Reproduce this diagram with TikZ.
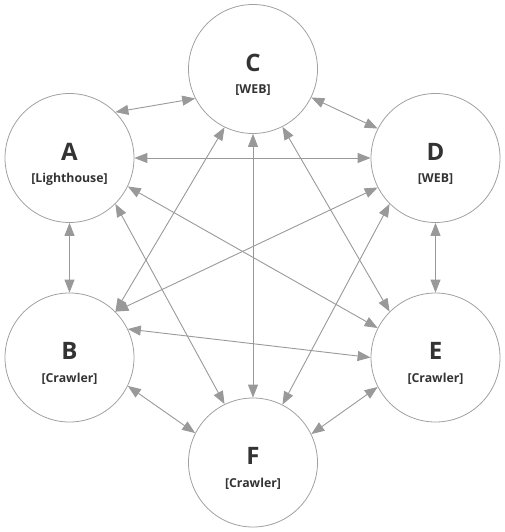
\documentclass[tikz,border=0pt]{standalone}
\usepackage{fontspec}
\setmainfont{Open Sans}
\usetikzlibrary{arrows.meta}
\definecolor{edgegray}{HTML}{999999}
\definecolor{ringgray}{HTML}{A0A0A0}
\definecolor{textdark}{HTML}{333333}
\tikzset{
	peer/.style={circle,draw=ringgray,line width=0.8pt,minimum size=129pt,inner sep=0pt},
	tag/.style={text=textdark,font=\bfseries\fontsize{24}{24}\selectfont,inner sep=0pt},
	role/.style={text=textdark,font=\bfseries\fontsize{12.3}{12.3}\selectfont,inner sep=0pt},
	link/.style={draw=edgegray,line width=0.9pt,{Triangle[length=13pt,width=10pt]}-{Triangle[length=13pt,width=10pt]}}
}
\begin{document}
\begin{tikzpicture}[x=1pt,y=-1pt]
		\useasboundingbox (0,0) rectangle (504,532);
		\node [peer] (A) at (69.5,158) {};
		\node [peer] (B) at (69.5,357.5) {};
		\node [peer] (C) at (253,69) {};
		\node [peer] (D) at (435.5,158) {};
		\node [peer] (E) at (435.5,357.5) {};
		\node [peer] (F) at (253,462.5) {};
		\draw [link] (A.45) to (C.-153.43);
		\draw [link] (C.-26.57) to (D.153.43);
		\draw [link] (A.0) to (D.180);
		\draw [link] (A.-90) to (B.90);
		\draw [link] (D.-90) to (E.90);
		\draw [link] (B.-26.57) to (F.153.43);
		\draw [link] (E.-153.43) to (F.26.57);
		\draw [link] (B.26.57) to (E.180);
		\draw [link] (C.-116.57) to (B.45);
		\draw [link] (C.-90) to (F.90);
		\draw [link] (C.-63.43) to (E.135);
		\draw [link] (A.-26.57) to (E.153.43);
		\draw [link] (A.-45) to (F.116.57);
		\draw [link] (D.-153.43) to (B.45);
		\draw [link] (D.-135) to (F.63.43);
		\node [tag] (A-tag) at ([yshift=6.5pt]A) {A};
		\node [role] (A-role) at ([yshift=-21pt]A) {[Lighthouse]};
		\node [tag] (B-tag) at ([yshift=6.5pt]B) {B};
		\node [role] (B-role) at ([yshift=-21pt]B) {[Crawler]};
		\node [tag] (C-tag) at ([yshift=6.5pt]C) {C};
		\node [role] (C-role) at ([yshift=-21pt]C) {[WEB]};
		\node [tag] (D-tag) at ([yshift=6.5pt]D) {D};
		\node [role] (D-role) at ([yshift=-21pt]D) {[WEB]};
		\node [tag] (E-tag) at ([yshift=6.5pt]E) {E};
		\node [role] (E-role) at ([yshift=-21pt]E) {[Crawler]};
		\node [tag] (F-tag) at ([yshift=6.5pt]F) {F};
		\node [role] (F-role) at ([yshift=-21pt]F) {[Crawler]};
	\end{tikzpicture}
\end{document}
